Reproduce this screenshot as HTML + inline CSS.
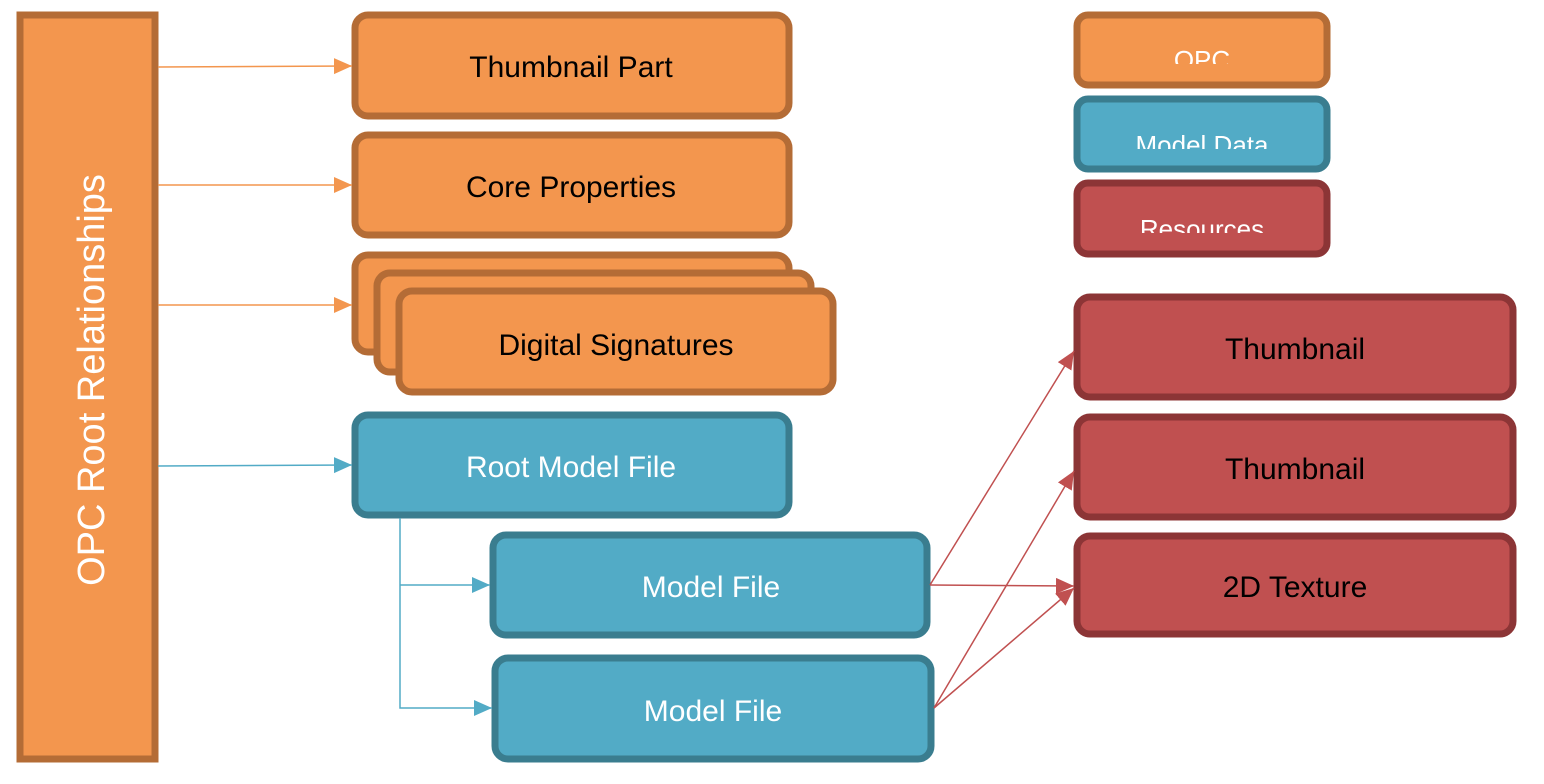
<!DOCTYPE html>
<html><head><style>body{margin:0;background:#fff}svg{display:block}text{font-family:"Liberation Sans",sans-serif}</style></head><body>
<svg width="1544" height="784" viewBox="0 0 1544 784" xmlns="http://www.w3.org/2000/svg">
<defs>
<marker id="ab" markerWidth="20" markerHeight="20" refX="18" refY="8" orient="auto" markerUnits="userSpaceOnUse"><path d="M0,0 L18,8 L0,16z" fill="#52abc6"/></marker>
<marker id="ar" markerWidth="20" markerHeight="20" refX="18" refY="8" orient="auto" markerUnits="userSpaceOnUse"><path d="M0,0 L18,8 L0,16z" fill="#c05050"/></marker>
<marker id="ao2" markerWidth="20" markerHeight="20" refX="18" refY="8" orient="auto" markerUnits="userSpaceOnUse"><path d="M0,0 L18,8 L0,16z" fill="#f3964e"/></marker>
</defs>
<g stroke-width="7">
<rect x="20" y="15" width="135" height="744" fill="#f3964e" stroke="#b46c36"/>
<g fill="#f3964e" stroke="#b46c36">
<rect x="355" y="15" width="434" height="101" rx="13"/>
<rect x="355" y="135" width="434" height="100" rx="13"/>
<rect x="355" y="255" width="434" height="97" rx="13"/>
<rect x="377" y="273" width="434" height="99" rx="13"/>
<rect x="399" y="291" width="434" height="101" rx="13"/>
<rect x="1077" y="15" width="250" height="70" rx="11"/>
</g>
<g fill="#52abc6" stroke="#3a7d8f">
<rect x="355" y="415" width="434" height="100" rx="13"/>
<rect x="493" y="535" width="434" height="100" rx="13"/>
<rect x="495" y="658" width="436" height="101" rx="13"/>
<rect x="1077" y="99" width="250" height="70" rx="11"/>
</g>
<g fill="#c05050" stroke="#8c3536">
<rect x="1077" y="183" width="250" height="71" rx="11"/>
<rect x="1077" y="297" width="436" height="100" rx="13"/>
<rect x="1077" y="417" width="436" height="100" rx="13"/>
<rect x="1077" y="536" width="436" height="98" rx="13"/>
</g>
</g>
<g stroke-width="1.5" fill="none">
<line x1="158" y1="67" x2="352" y2="66" stroke="#f3964e" marker-end="url(#ao2)"/>
<line x1="158" y1="185" x2="352" y2="185" stroke="#f3964e" marker-end="url(#ao2)"/>
<line x1="158" y1="305" x2="352" y2="305" stroke="#f3964e" marker-end="url(#ao2)"/>
<line x1="158" y1="466" x2="352" y2="465" stroke="#52abc6" marker-end="url(#ab)"/>
<polyline points="400,518 400,708 492,708" stroke="#52abc6" marker-end="url(#ab)"/>
<line x1="400" y1="585" x2="490" y2="585" stroke="#52abc6" marker-end="url(#ab)"/>
<line x1="930" y1="585" x2="1074" y2="351" stroke="#c05050" marker-end="url(#ar)"/>
<line x1="930" y1="585" x2="1074" y2="586" stroke="#c05050" marker-end="url(#ar)"/>
<line x1="934" y1="708" x2="1074" y2="471" stroke="#c05050" marker-end="url(#ar)"/>
<line x1="934" y1="708" x2="1074" y2="588" stroke="#c05050" marker-end="url(#ar)"/>
</g>
<g font-size="30" text-anchor="middle">
<text x="571" y="77">Thumbnail Part</text>
<text x="571" y="197">Core Properties</text>
<text x="616" y="355">Digital Signatures</text>
<text x="571" y="477" fill="#fff">Root Model File</text>
<text x="711" y="597" fill="#fff">Model File</text>
<text x="713" y="721" fill="#fff">Model File</text>
<text x="1295" y="359">Thumbnail</text>
<text x="1295" y="479">Thumbnail</text>
<text x="1295" y="597">2D Texture</text>
<text transform="translate(104,380) rotate(-90)" font-size="38" fill="#fff">OPC Root Relationships</text>
</g>
<g font-size="26" text-anchor="middle" fill="#fff">
<svg x="1080" y="18" width="244" height="46" overflow="hidden"><text x="122" y="51">OPC</text></svg>
<svg x="1080" y="102" width="244" height="47" overflow="hidden"><text x="122" y="52">Model Data</text></svg>
<svg x="1080" y="186" width="244" height="47" overflow="hidden"><text x="122" y="52">Resources</text></svg>
</g>
</svg>
</body></html>
